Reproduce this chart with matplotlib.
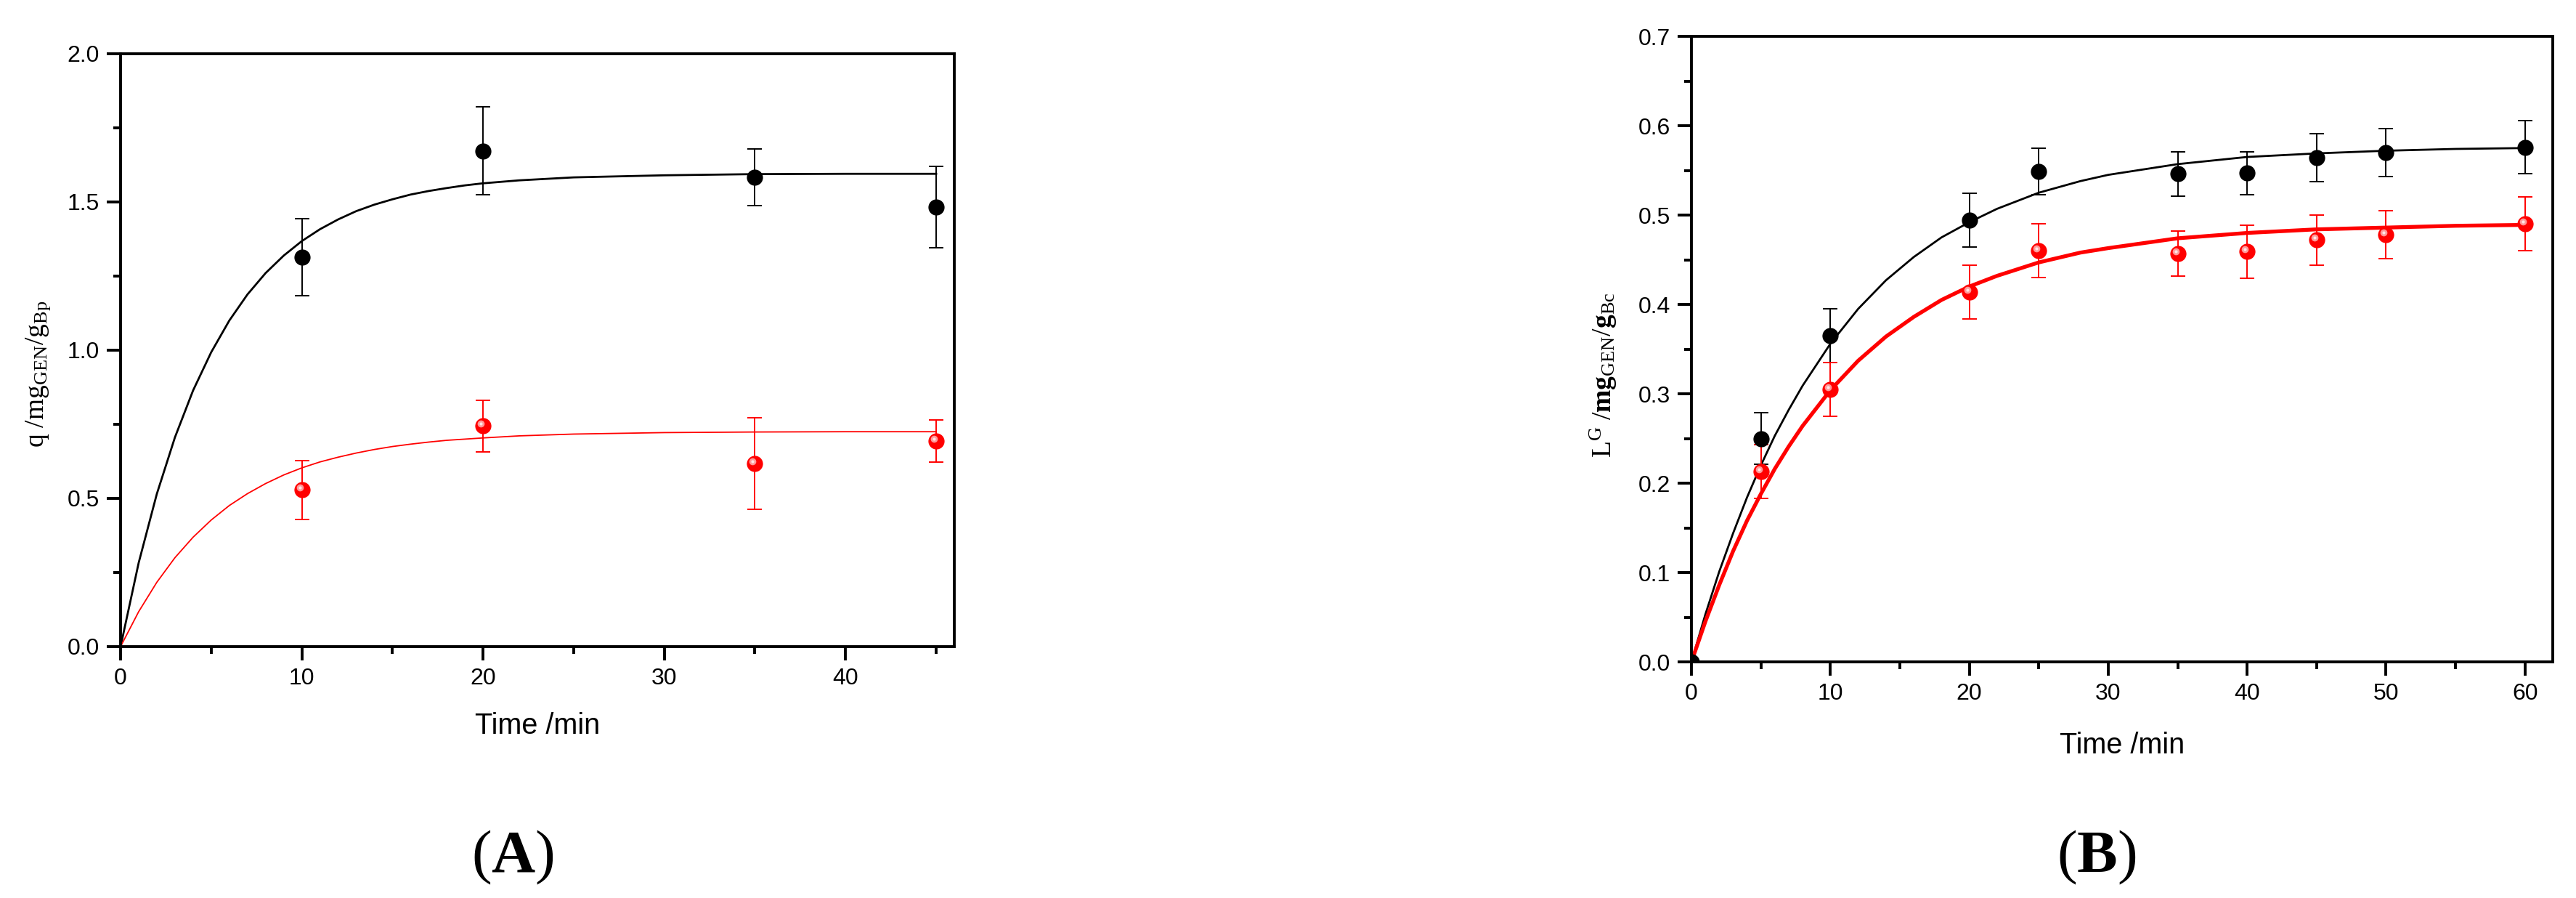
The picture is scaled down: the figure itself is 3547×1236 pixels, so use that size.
import matplotlib
matplotlib.use("Agg")
import matplotlib.pyplot as plt
from matplotlib.ticker import MultipleLocator, FormatStrFormatter
from matplotlib.transforms import offset_copy

plt.rcParams['font.family'] = ['Liberation Sans', 'DejaVu Sans']
plt.rcParams['mathtext.fontset'] = 'custom'
plt.rcParams['mathtext.rm'] = 'Liberation Serif'
plt.rcParams['mathtext.it'] = 'Liberation Serif:italic'
plt.rcParams['mathtext.bf'] = 'Liberation Serif:bold'

# ---- Panel A data ----
time_a = [10, 20, 35, 45]
black_a = [1.314, 1.672, 1.583, 1.483]
black_a_err = [0.130, 0.148, 0.095, 0.137]
red_a = [0.529, 0.745, 0.617, 0.693]
red_a_err = [0.099, 0.087, 0.154, 0.071]

# fitted curves, values
curve_t_a = [0, 1, 2, 3, 4, 5, 6, 7, 8, 9, 10, 11, 12, 13, 14, 15, 16, 17, 18, 19,
             20, 22, 25, 30, 35, 40, 45]
curve_black_a = [0, 0.283, 0.515, 0.706, 0.864, 0.993, 1.100, 1.188, 1.260, 1.319,
                 1.368, 1.408, 1.441, 1.469, 1.491, 1.509, 1.525, 1.537, 1.547, 1.556,
                 1.563, 1.573, 1.583, 1.590, 1.594, 1.595, 1.595]
curve_red_a = [0, 0.118, 0.217, 0.300, 0.369, 0.427, 0.476, 0.516, 0.550, 0.579,
               0.603, 0.623, 0.639, 0.653, 0.665, 0.675, 0.683, 0.690, 0.696, 0.700,
               0.704, 0.711, 0.717, 0.722, 0.724, 0.725, 0.725]

# ---- Panel B data ----
time_b_black = [0, 5, 10, 20, 25, 35, 40, 45, 50, 60]
black_b = [0, 0.250, 0.365, 0.494, 0.549, 0.546, 0.547, 0.564, 0.570, 0.576]
black_b_err = [0, 0.029, 0.030, 0.030, 0.026, 0.025, 0.024, 0.027, 0.027, 0.030]
time_b_red = [5, 10, 20, 25, 35, 40, 45, 50, 60]
red_b = [0.213, 0.305, 0.414, 0.460, 0.457, 0.459, 0.472, 0.478, 0.490]
red_b_err = [0.030, 0.030, 0.030, 0.030, 0.025, 0.030, 0.028, 0.027, 0.030]

curve_t_b = [0, 1, 2, 3, 4, 5, 6, 7, 8, 10, 12, 14, 16, 18, 20, 22, 25, 28, 30,
             35, 40, 45, 50, 55, 60]
curve_black_b = [0, 0.053, 0.101, 0.144, 0.184, 0.220, 0.253, 0.282, 0.309, 0.356,
                 0.395, 0.427, 0.453, 0.475, 0.492, 0.507, 0.525, 0.538, 0.545,
                 0.557, 0.565, 0.569, 0.572, 0.574, 0.575]
curve_red_b = [0, 0.045, 0.086, 0.124, 0.158, 0.188, 0.216, 0.241, 0.264, 0.304,
               0.337, 0.364, 0.386, 0.405, 0.420, 0.432, 0.447, 0.458, 0.463,
               0.474, 0.480, 0.484, 0.486, 0.488, 0.489]

fig = plt.figure(figsize=(35.48, 12.36), dpi=100)
ax_a = fig.add_axes([0.04679, 0.27994, 0.32356, 0.66019])
ax_b = fig.add_axes([0.65643, 0.26294, 0.33427, 0.69660])

MS = 16


def draw_points(ax, t, y, err, color, sphere=False):
    ax.errorbar(t, y, yerr=err, fmt='none', ecolor=color, elinewidth=1.4,
                capsize=7, capthick=1.4, zorder=3)
    ax.plot(t, y, 'o', color=color, markersize=MS, markeredgewidth=0, zorder=4)
    if sphere:
        # little highlight to mimic the shaded ball marker
        shift = offset_copy(ax.transData, fig=fig, x=-3, y=3, units='dots')
        ax.plot(t, y, 'o', color='#ff9a9a', markersize=7, markeredgewidth=0,
                transform=shift, zorder=5)
        ax.plot(t, y, 'o', color='#ffe6e6', markersize=3, markeredgewidth=0,
                transform=shift, zorder=6)


def style_axis(ax, xmax, ymax, ymaj, ymin):
    ax.set_xlim(0, xmax)
    ax.set_ylim(0, ymax)
    ax.xaxis.set_major_locator(MultipleLocator(10))
    ax.xaxis.set_minor_locator(MultipleLocator(5))
    ax.yaxis.set_major_locator(MultipleLocator(ymaj))
    ax.yaxis.set_minor_locator(MultipleLocator(ymin))
    ax.yaxis.set_major_formatter(FormatStrFormatter('%.1f'))
    ax.tick_params(which='both', direction='out', top=False, right=False, width=2.8)
    ax.tick_params(which='major', length=14, labelsize=23, pad=7)
    ax.tick_params(which='minor', length=7)
    for s in ax.spines.values():
        s.set_linewidth(2.8)


# Panel A
ax_a.plot(curve_t_a, curve_black_a, color='black', linewidth=2.0, zorder=2)
ax_a.plot(curve_t_a, curve_red_a, color='#ff0000', linewidth=1.3, zorder=2)
draw_points(ax_a, time_a, black_a, black_a_err, 'black')
draw_points(ax_a, time_a, red_a, red_a_err, '#ff0000', sphere=True)
style_axis(ax_a, 46, 2.0, 0.5, 0.25)
ax_a.set_ylabel(r'$\mathrm{q\ /mg_{GEN}/g_{Bp}}$', fontsize=27)
ax_a.yaxis.set_label_coords(-0.082, 0.46)
ax_a.set_xlabel('Time /min', fontsize=28.5, va='baseline')
ax_a.xaxis.set_label_coords(0.5, -0.147)

# Panel B
ax_b.plot(curve_t_b, curve_black_b, color='black', linewidth=2.0, zorder=2)
ax_b.plot(curve_t_b, curve_red_b, color='#ff0000', linewidth=3.8, zorder=2)
draw_points(ax_b, time_b_black, black_b, black_b_err, 'black')
draw_points(ax_b, time_b_red, red_b, red_b_err, '#ff0000', sphere=True)
style_axis(ax_b, 62, 0.7, 0.1, 0.05)
ax_b.set_ylabel(r'$\mathrm{L^{G}\ /}\mathbf{mg}_{\mathrm{GEN}}\mathrm{/}\mathbf{g}_{\mathrm{Bc}}$',
                fontsize=27)
ax_b.yaxis.set_label_coords(-0.084, 0.458)
ax_b.set_xlabel('Time /min', fontsize=28.5, va='baseline')
ax_b.xaxis.set_label_coords(0.5, -0.146)

# panel letters
fig.text(0.199, 0.045, r'($\mathbf{A}$)', fontsize=60, ha='center', va='center',
         family='Liberation Serif')
fig.text(0.8137, 0.045, r'($\mathbf{B}$)', fontsize=60, ha='center', va='center',
         family='Liberation Serif')

fig.savefig('out.png', dpi=100)
